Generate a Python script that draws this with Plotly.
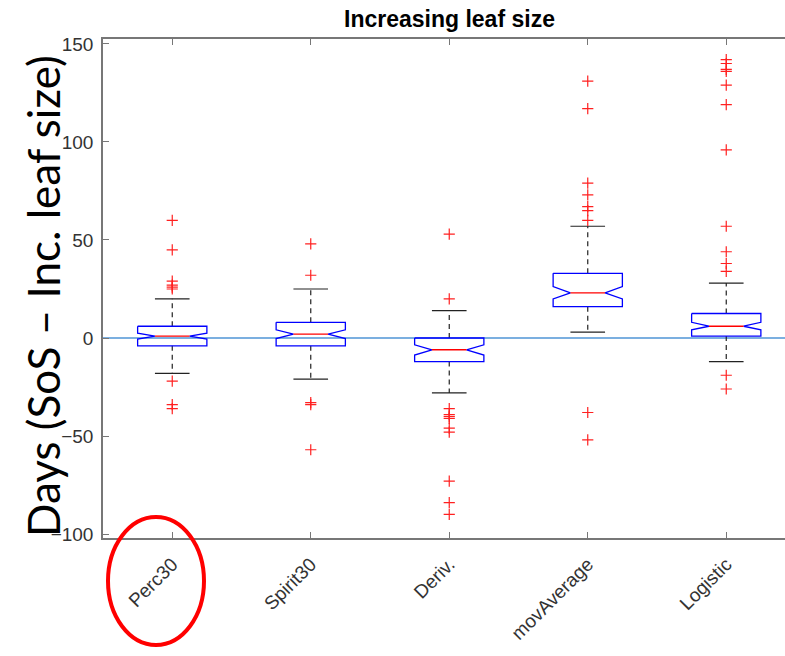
import plotly.graph_objects as go

# Box statistics per SoS method (days, SoS minus increasing-leaf-size date)
categories = ["Perc30", "Spirit30", "Deriv.", "movAverage", "Logistic"]
q1 = [-4, -4, -12, 16, 1]
medians = [1, 2, -6, 23, 6]
q3 = [6, 8, 0, 33, 12.5]
notch_lo = [-0.5, -0.3, -8.7, 19.9, 4.2]
notch_hi = [2.5, 4.2, -3.5, 26.2, 8.0]
whisker_lo = [-18, -21, -28, 3, -12]
whisker_hi = [20, 25, 14, 57, 28]
outliers = [
    [60, 45, 29, 27, 26, 25, -22, -34, -36],
    [48, 32, -33, -34, -57],
    [53, 20, -36, -39, -40, -41, -46, -48, -73, -84, -90],
    [131, 117, 79, 73, 67, 65, 60, -38, -52],
    [142, 140, 137, 136, 129, 119, 96, 57, 44, 38, 34, -19, -26],
]
y_ticks = [-100, -50, 0, 50, 100, 150]

BOX_HALF = 0.25
NOTCH_HALF = 0.125
CAP_HALF = 0.125

box_x, box_y = [], []
med_x, med_y = [], []
wh_x, wh_y = [], []
cap_x, cap_y = [], []
out_x, out_y = [], []

for i, name in enumerate(categories):
    p = i + 1
    l, r = p - BOX_HALF, p + BOX_HALF
    nl, nr = p - NOTCH_HALF, p + NOTCH_HALF
    # notched box outline
    box_x += [l, l, nl, l, l, r, r, nr, r, r, l, None]
    box_y += [q3[i], notch_hi[i], medians[i], notch_lo[i], q1[i],
              q1[i], notch_lo[i], medians[i], notch_hi[i], q3[i], q3[i], None]
    med_x += [nl, nr, None]
    med_y += [medians[i], medians[i], None]
    wh_x += [p, p, None, p, p, None]
    wh_y += [q3[i], whisker_hi[i], None, q1[i], whisker_lo[i], None]
    cap_x += [p - CAP_HALF, p + CAP_HALF, None, p - CAP_HALF, p + CAP_HALF, None]
    cap_y += [whisker_hi[i], whisker_hi[i], None, whisker_lo[i], whisker_lo[i], None]
    out_x += [p] * len(outliers[i])
    out_y += outliers[i]

fig = go.Figure()

# zero reference line
fig.add_trace(go.Scatter(x=[0.5, 5.5], y=[0, 0], mode="lines",
                         line=dict(color="#4f95d6", width=1.5), hoverinfo="skip"))
fig.add_trace(go.Scatter(x=wh_x, y=wh_y, mode="lines",
                         line=dict(color="#222222", width=1.2, dash="5px,4px")))
fig.add_trace(go.Scatter(x=cap_x, y=cap_y, mode="lines",
                         line=dict(color="#222222", width=1.2)))
fig.add_trace(go.Scatter(x=box_x, y=box_y, mode="lines",
                         line=dict(color="#0000ff", width=1.3)))
fig.add_trace(go.Scatter(x=med_x, y=med_y, mode="lines",
                         line=dict(color="#ff0000", width=1.3)))
fig.add_trace(go.Scatter(x=out_x, y=out_y, mode="markers",
                         marker=dict(symbol="cross-thin", size=8,
                                     line=dict(color="#ff2020", width=1.2))))

W, H = 785, 656
L, R, T, B = 103, 0, 39, 118
pw, ph = W - L - R, H - T - B
x_max = 0.5 + pw / 138.5

fig.update_layout(
    width=W, height=H,
    margin=dict(l=L, r=R, t=T, b=B, pad=0),
    paper_bgcolor="white", plot_bgcolor="white",
    showlegend=False,
    font=dict(family="Liberation Sans, Arial, sans-serif", color="#333333"),
    xaxis=dict(
        range=[0.5, x_max], tickmode="array",
        tickvals=list(range(1, len(categories) + 1)), ticktext=categories,
        tickangle=-45, tickfont=dict(size=19, color="#333333"),
        ticks="inside", ticklen=6, tickcolor="#777777", tickwidth=1.3,
        ticklabelstandoff=6,
        showline=True, linecolor="#777777", linewidth=1.5, mirror="ticks",
        showgrid=False, zeroline=False,
    ),
    yaxis=dict(
        range=[-102, 152.5], tickmode="array", tickvals=y_ticks,
        tickfont=dict(size=19, color="#333333"),
        ticks="inside", ticklen=6, tickcolor="#777777", tickwidth=1.3,
        ticklabelstandoff=4,
        showline=True, linecolor="#777777", linewidth=1.5,
        showgrid=False, zeroline=False,
    ),
)

# title centred on the full axes width
fig.add_annotation(x=3, xref="x", y=1, yref="paper", yanchor="bottom", yshift=5,
                   text="<b>Increasing leaf size</b>", showarrow=False,
                   font=dict(size=23, color="black", family="Liberation Sans, Arial"))

# y-axis label
fig.add_annotation(x=0, xref="paper", xanchor="center", xshift=-60,
                   y=(538 - 296) / ph, yref="paper", yanchor="middle",
                   text="Days (SoS – Inc. leaf size)", textangle=-90, showarrow=False,
                   font=dict(size=44, color="black", family="Lato"))

# highlight ring around the first method label
fig.add_shape(type="circle", xref="paper", yref="paper",
              x0=(108 - L) / pw, x1=(204 - L) / pw,
              y0=(538 - 645) / ph, y1=(538 - 517) / ph,
              line=dict(color="#ff0000", width=4))

fig.write_html("out.html")
